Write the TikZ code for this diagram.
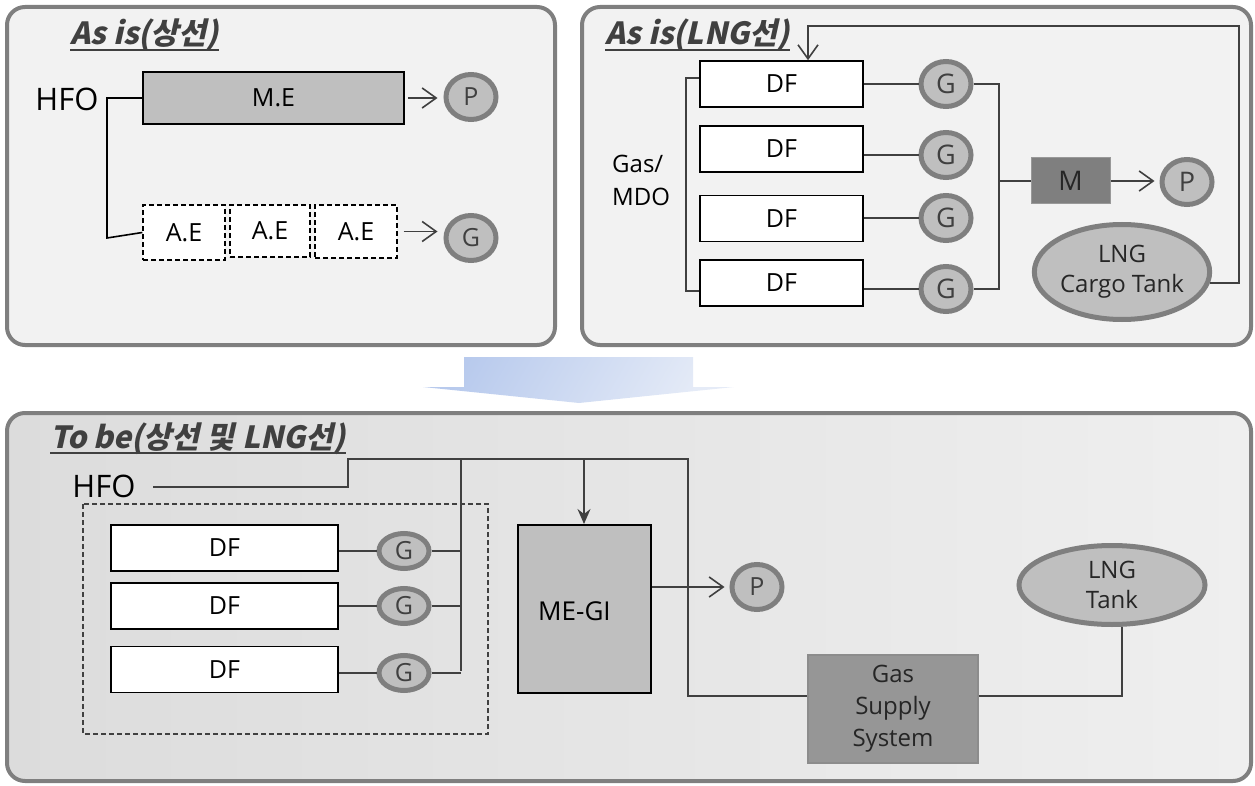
\documentclass[tikz,border=0pt]{standalone}
\usepackage{fontspec}
\setmainfont{Open Sans}
\newfontfamily\krt{Noto Sans CJK KR}[FakeSlant=0.22]
\usetikzlibrary{arrows.meta,shapes.geometric}
\definecolor{pborder}{HTML}{7F7F7F}
\definecolor{pfill}{HTML}{F2F2F2}
\definecolor{gfill}{HTML}{BFBFBF}
\definecolor{dk}{HTML}{404040}
\definecolor{txt}{HTML}{262626}
\definecolor{mfill}{HTML}{7F7F7F}
\definecolor{gssfill}{HTML}{969696}
\definecolor{pthreeL}{HTML}{DCDCDC}
\definecolor{pthreeR}{HTML}{EFEFEF}
\definecolor{blueA}{HTML}{B8CAED}
\definecolor{blueB}{HTML}{E5EBF7}
\newcommand\lblfont{\fontsize{25}{31}\selectfont}
\newcommand\bigfont{\fontsize{31}{36}\selectfont}
\newcommand\titlefont{\krt\bfseries\fontsize{30.5}{34}\selectfont}
\tikzset{
  panel/.style={draw=pborder, line width=4pt, rounded corners=18pt},
  ttl/.style={anchor=base west, inner sep=0pt, text=dk, font=\titlefont},
  uline/.style={draw=dk, line width=1.6pt},
  lbl/.style={inner sep=0pt, text=black, font=\lblfont},
  bigl/.style={inner sep=0pt, text=black, font=\bigfont},
  dfbox/.style={draw=black, line width=1.6pt, fill=white, inner sep=0pt, font=\lblfont},
  aebox/.style={draw=black, line width=1.4pt, dashed, dash pattern=on 5pt off 3pt, fill=white, inner sep=0pt, font=\lblfont},
  gen/.style={ellipse, draw=pborder, line width=5pt, fill=gfill, inner sep=0pt, minimum width=50pt, minimum height=45pt, text=dk, font=\lblfont},
  genflat/.style={gen, minimum height=35pt},
  conn/.style={draw=dk, line width=1.6pt},
  oarrow/.style={conn, -{Straight Barb[length=14pt,width=20pt,line width=1.6pt]}},
  farrow/.style={conn, -{Stealth[length=15pt,width=13pt,inset=5pt]}},
}
\begin{document}
\begin{tikzpicture}[x=1pt,y=-1pt]
\useasboundingbox (0,0) rectangle (1255,786);

% ---------- panel 1 ----------
\fill[pfill, rounded corners=18pt] (7,7) rectangle (555,345);
\draw[panel] (7,7) rectangle (555,345);
\node[ttl] (t1) at (70,45) {As is(상선)};
\draw[uline] ([yshift=-5pt]t1.base west) -- ([yshift=-5pt]t1.base east);
\node[bigl] (hfo1) at (67,99) {HFO};
\node[draw=black, line width=1.6pt, fill=gfill, inner sep=0pt, minimum width=261pt, minimum height=52pt, font=\lblfont] (me) at (273.5,98) {M.E};
\node[aebox, minimum width=82pt, minimum height=55pt] (ae1) at (184,232.5) {A.E};
\node[aebox, minimum width=80pt, minimum height=52pt] (ae2) at (270,231) {A.E};
\node[aebox, minimum width=82pt, minimum height=53pt] (ae3) at (356,231.5) {A.E};
\node[gen] (p1) at (471,97) {P};
\node[gen] (g1) at (471,238) {G};
\coordinate (c1) at (107,98);
\coordinate (c2) at (107,238);
\draw[conn, draw=black] (me.west) -- (c1) -- (c2) -- (ae1.west);
\draw[oarrow, shorten <=3pt, shorten >=6pt] (me.east) -- (me.east -| p1.west);
\draw[oarrow, shorten <=6pt, shorten >=6pt] (ae3.east) -- (ae3.east -| g1.west);

% ---------- panel 2 ----------
\fill[pfill, rounded corners=18pt] (582,7) rectangle (1251,345);
\draw[panel] (582,7) rectangle (1251,345);
\node[ttl] (t2) at (605,45) {As is(LNG선)};
\draw[uline] ([yshift=-5pt]t2.base west) -- ([yshift=-5pt]t2.base east);
\node[lbl, anchor=west, align=left, font=\fontsize{24}{33}\selectfont] (gm) at (612,180) {Gas/\\MDO};
\foreach \n/\y in {1/84,2/149,3/218.5,4/283}{
  \node[dfbox, minimum width=163pt, minimum height=46pt] (df\n) at (781.5,\y) {DF};
}
\foreach \n/\y in {1/84,2/155,3/218,4/289}{
  \node[gen, font=\fontsize{27}{30}\selectfont] (g2\n) at (946,\y) {G};
}
\node[draw=gfill!80!black, line width=1pt, fill=mfill, inner sep=0pt, minimum width=79pt, minimum height=46pt, text=txt, font=\fontsize{27}{30}\selectfont] (m) at (1070.5,181) {M};
\node[gen, font=\fontsize{27}{30}\selectfont] (p2) at (1187,182) {P};
\node[gen, minimum width=175pt, minimum height=95pt, align=center, text=txt, font=\fontsize{24}{30}\selectfont] (tank1) at (1122,272) {LNG\\Cargo Tank};
\coordinate (lb1) at (686,78);
\coordinate (lb2) at (686,291);
\draw[conn] (lb1 -| df1.west) -- (lb1) -- (lb2) -- (lb2 -| df4.west);
\foreach \n in {1,2,3,4}{
  \draw[conn] (g2\n.west -| df\n.east) -- (g2\n.west);
}
\coordinate (rbx) at (999,0);
\draw[conn] (g21.east) -- (g21.east -| rbx) -- (g24.east -| rbx) -- (g24.east);
\draw[conn] (rbx |- m.west) -- (m.west);
\draw[oarrow, shorten >=5pt] (m.east) -- (m.east -| p2.west);
\coordinate (fb1) at (1239,26);
\coordinate (fb2) at (808,26);
\draw[oarrow] (tank1.-7) -- (tank1.-7 -| fb1) -- (fb1) -- (fb2) -- (fb2 |- df1.north);

% ---------- transition arrow ----------
\shade[left color=blueA, right color=blueB, shading angle=60]
  (464,357) -- (693,357) -- (693,387) -- (734,387) -- (579,403) -- (423,387) -- (464,387) -- cycle;

% ---------- panel 3 ----------
\shade[left color=pthreeL, right color=pthreeR, rounded corners=18pt] (7,413) rectangle (1251,781);
\draw[panel] (7,413) rectangle (1251,781);
\node[ttl] (t3) at (50,448) {To be(상선 및 LNG선)};
\draw[uline] ([yshift=-5pt]t3.base west) -- ([yshift=-5pt]t3.base east);
\node[bigl] (hfo3) at (104,486) {HFO};
\draw[dk, line width=1.4pt, dash pattern=on 5pt off 3pt] (83,504) rectangle (488,734);
\foreach \n/\y in {1/548,2/606,3/669.5}{
  \node[dfbox, minimum width=227pt, minimum height=46pt] (df3\n) at (224.5,\y) {DF};
}
\foreach \n/\y in {1/551,2/606,3/673}{
  \node[genflat] (g3\n) at (404,\y) {G};
}
\node[draw=black, line width=2pt, fill=gfill, inner sep=0pt, minimum width=133pt, minimum height=168pt] (megi) at (584.5,609) {};
\node[lbl, anchor=west, font=\fontsize{26}{30}\selectfont] (megit) at (538,611) {ME-GI};
\node[gen, font=\fontsize{25}{30}\selectfont] (p3) at (757,587) {P};
\node[draw=pborder!90, line width=1.2pt, fill=gssfill, inner sep=0pt, minimum width=170pt, minimum height=108pt, align=center, text=txt, font=\fontsize{24}{32}\selectfont] (gss) at (893,709) {Gas\\Supply\\System};
\node[gen, minimum width=186pt, minimum height=79pt, align=center, text=txt, font=\fontsize{24}{30}\selectfont] (tank3) at (1112,585) {LNG\\Tank};
\coordinate (hs) at (153,487);
\coordinate (a) at (348,487);
\coordinate (b) at (348,459);
\coordinate (c) at (688,459);
\coordinate (d) at (688,696);
\draw[conn] (hs) -- (a) -- (b) -- (c) -- (d) -- (d -| gss.west);
\coordinate (e) at (461,459);
\coordinate (f) at (461,671);
\draw[conn] (e) -- (f);
\foreach \n in {1,2,3}{
  \draw[conn] (g3\n.west -| df3\n.east) -- (g3\n.west);
  \draw[conn] (g3\n.east) -- (g3\n.east -| e);
}
\coordinate (k) at (584,459);
\draw[farrow] (k) -- (k |- megi.north);
\draw[oarrow, shorten >=5pt] (megi.east |- p3.west) -- (p3.west);
\coordinate (t) at (1122,696);
\draw[conn] (d -| gss.east) -- (t) -- (t |- tank3.south);
\end{tikzpicture}
\end{document}
